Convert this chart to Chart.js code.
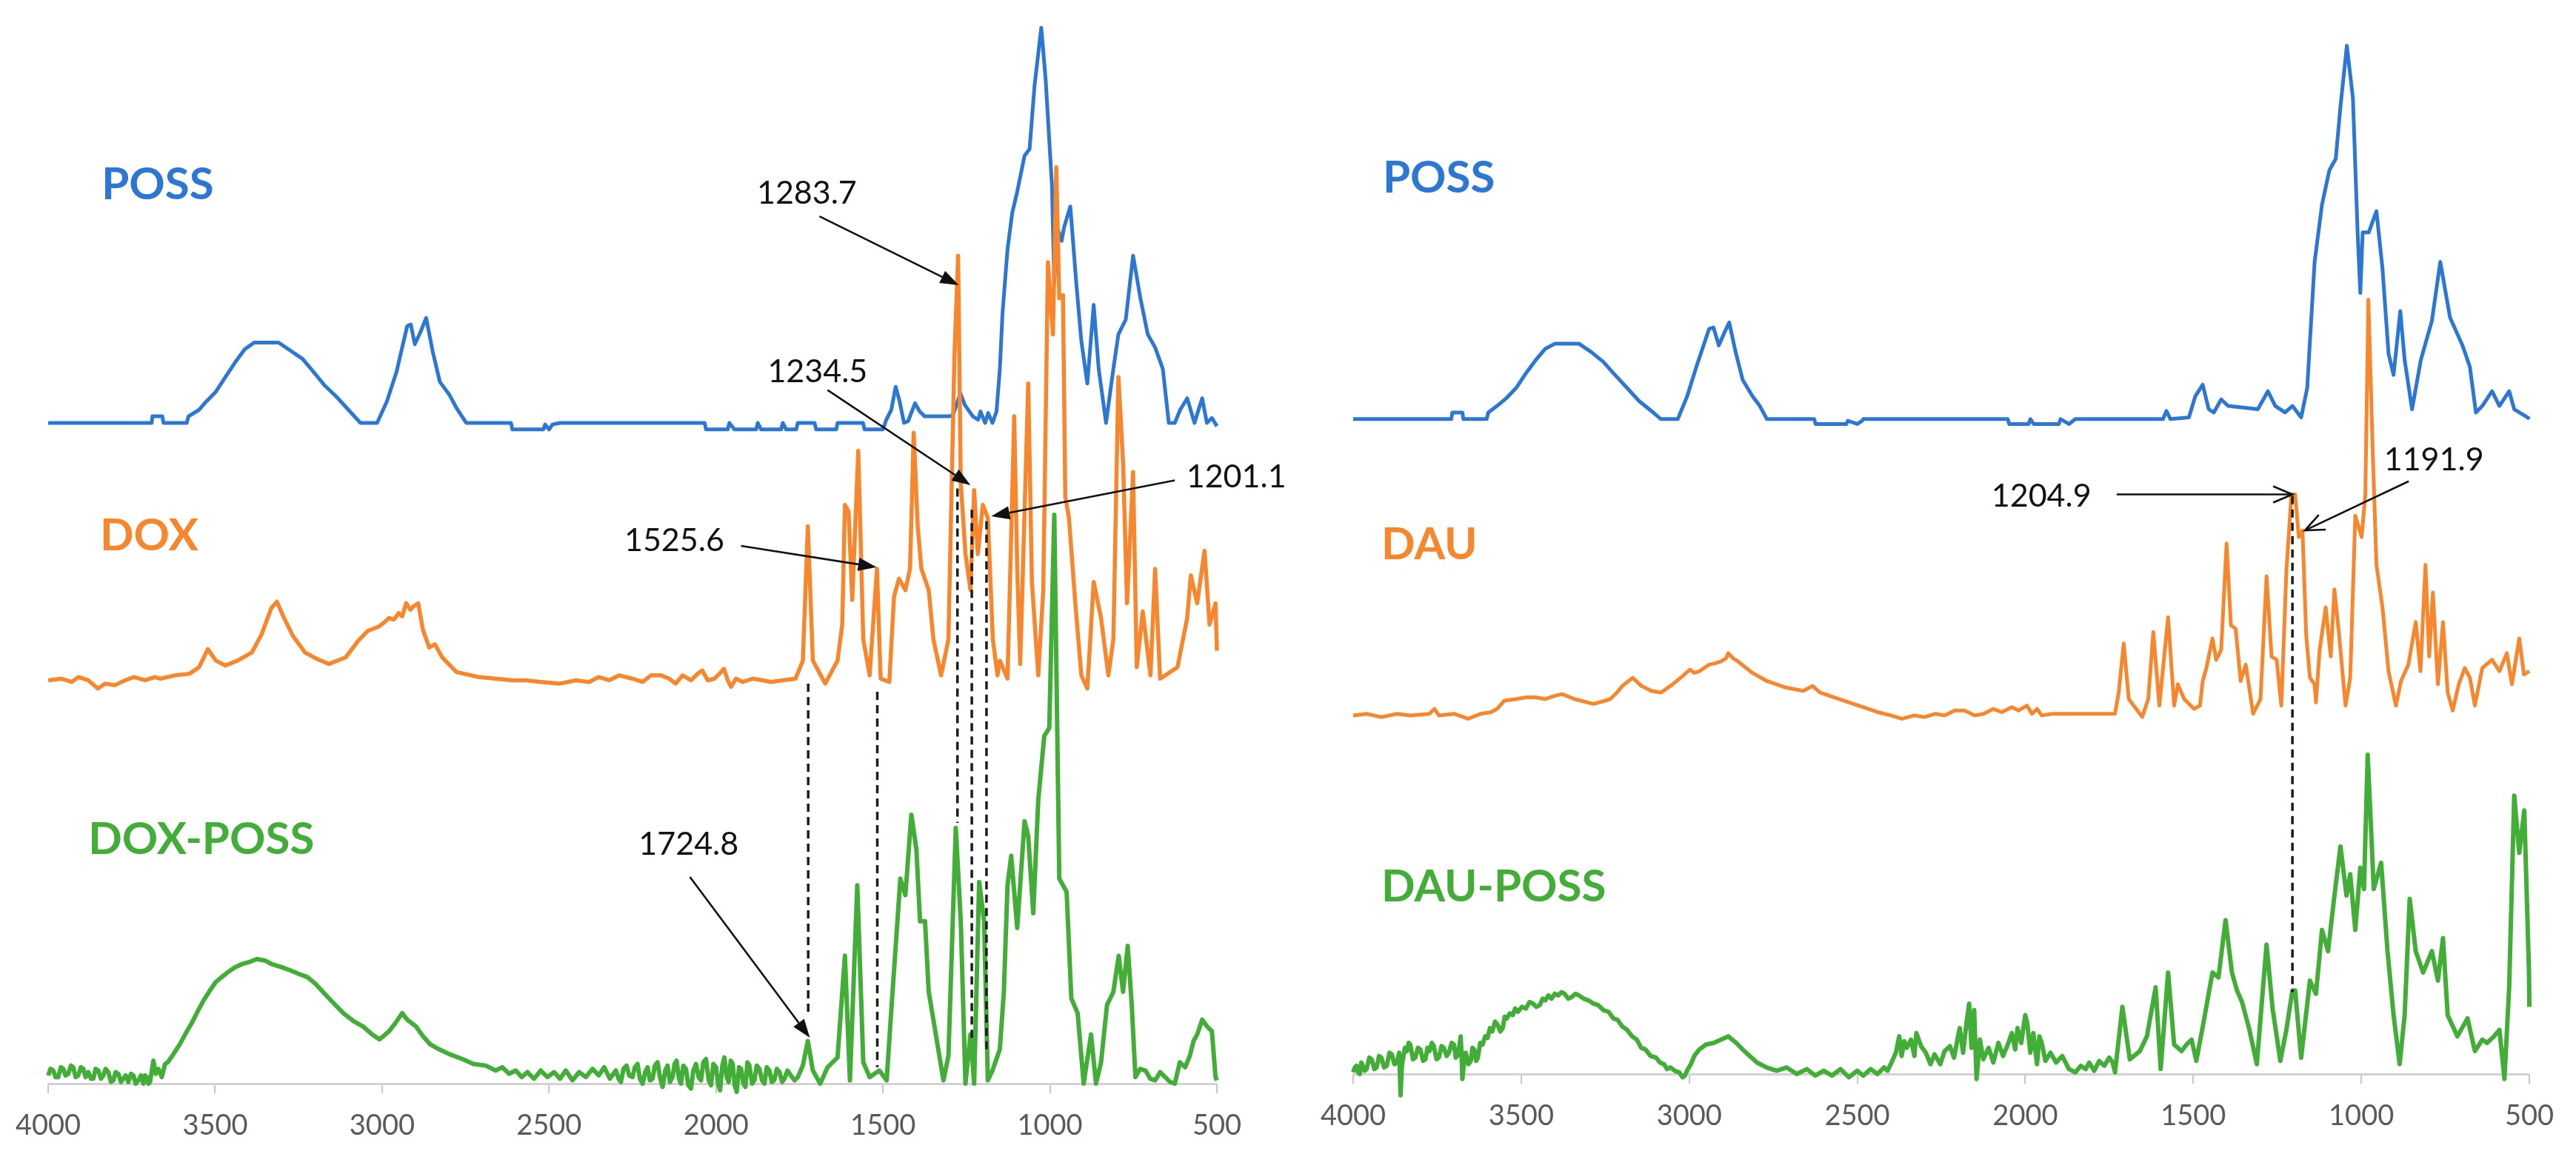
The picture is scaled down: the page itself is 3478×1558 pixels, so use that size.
<!DOCTYPE html>
<html>
<head>
<meta charset="utf-8">
<script src="https://cdn.jsdelivr.net/npm/chart.js@4.4.1/dist/chart.umd.min.js"></script>
<style>
  html, body { margin: 0; padding: 0; background: #fff; }
  #wrap { position: relative; width: 3478px; height: 1558px; overflow: hidden; }
  #left { position: absolute; left: 0; top: 0; }
  #right { position: absolute; left: 1739px; top: 0; }
</style>
</head>
<body>
<div id="wrap">
  <canvas id="left" width="1780" height="1558"></canvas>
  <canvas id="right" width="1739" height="1558"></canvas>
</div>
<script>
// wavenumber (cm-1), offset intensity
const possA = [
  [4000,397],[3690,397],[3688,401],[3658,401],[3655,397],[3585,397],[3580,401],[3548,405],[3527,410],[3498,416],[3469,425],[3440,434],[3411,442],[3383,446],[3310,446],[3274,441],[3238,436],[3209,429],[3173,420],[3137,413],[3101,405],[3065,397],[3015,397],[2986,410],[2957,428],[2925,456],[2914,457],[2902,445],[2886,452],[2868,461],[2849,441],[2827,422],[2798,414],[2777,406],[2748,397],[2614,397],[2610,393],[2517,393],[2512,396],[2500,393],[2490,396],[2467,397],[2034,397],[2030,393],[1965,393],[1960,397],[1945,393],[1880,393],[1875,397],[1865,393],[1805,393],[1800,397],[1790,393],[1760,393],[1755,397],[1705,397],[1700,393],[1640,393],[1636,397],[1560,397],[1555,393],[1500,393],[1490,399],[1475,405],[1462,419],[1450,410],[1437,397],[1425,398],[1404,409],[1390,404],[1375,401],[1300,401],[1290,402],[1268,415],[1255,408],[1231,401],[1215,399],[1208,404],[1194,397],[1185,403],[1172,397],[1160,404],[1150,430],[1142,464],[1127,503],[1113,525],[1098,538],[1076,560],[1061,564],[1046,603],[1026,638],[1013,607],[994,542],[987,482],[978,516],[965,508],[958,516],[939,529],[921,482],[906,447],[888,421],[869,469],[854,430],[832,397],[810,430],[795,451],[773,460],[751,499],[729,473],[707,451],[685,443],[662,430],[644,397],[626,397],[610,405],[589,412],[567,397],[555,405],[544,412],[530,397],[515,400],[500,395]
];
const dox = [
  [4000,240],[3960,241],[3930,239],[3909,242],[3880,240],[3851,235],[3830,238],[3801,237],[3770,240],[3743,242],[3710,240],[3680,242],[3664,241],[3620,243],[3577,244],[3548,248],[3522,259],[3498,252],[3469,249],[3433,252],[3390,257],[3361,268],[3332,284],[3315,288],[3296,279],[3267,267],[3231,257],[3195,253],[3159,250],[3109,254],[3072,264],[3044,270],[3008,273],[2990,276],[2979,278],[2965,277],[2950,281],[2940,279],[2928,287],[2915,283],[2907,285],[2892,287],[2878,271],[2859,260],[2842,262],[2820,254],[2777,245],[2712,242],[2660,241],[2611,240],[2570,240],[2524,239],[2467,238],[2420,240],[2380,239],[2351,242],[2320,240],[2290,243],[2250,241],[2220,239],[2195,243],[2164,243],[2140,241],[2121,238],[2100,243],[2075,240],[2055,244],[2041,246],[2025,240],[2005,241],[1990,244],[1976,247],[1965,240],[1955,236],[1940,241],[1920,239],[1890,241],[1860,240],[1836,239],[1800,240],[1762,241],[1740,252],[1725,334],[1710,252],[1673,238],[1636,252],[1622,274],[1614,347],[1603,343],[1592,289],[1574,380],[1559,265],[1540,243],[1518,308],[1507,241],[1481,239],[1467,291],[1452,302],[1433,295],[1419,308],[1408,391],[1396,334],[1385,308],[1363,295],[1349,265],[1326,243],[1304,265],[1286,438],[1275,499],[1267,360],[1253,317],[1238,295],[1227,356],[1216,317],[1201,347],[1186,339],[1171,265],[1157,243],[1150,252],[1127,241],[1107,401],[1098,308],[1089,250],[1065,421],[1054,300],[1035,243],[1020,295],[1006,495],[991,451],[981,553],[972,473],[961,475],[954,352],[943,339],[924,287],[906,243],[888,235],[869,300],[847,278],[825,243],[810,265],[795,425],[781,373],[769,287],[751,367],[740,248],[722,282],[699,243],[685,308],[670,241],[655,243],[618,248],[589,278],[578,304],[559,287],[537,319],[522,274],[504,287],[500,258]
];
const doxPoss = [
  [4000,-1],[3993,3],[3985,2],[3978,-2],[3970,-2],[3962,4],[3955,3],[3948,-1],[3940,0],[3932,5],[3925,4],[3918,-2],[3910,-1],[3902,4],[3895,3],[3888,-2],[3880,1],[3872,-3],[3865,-3],[3858,3],[3850,2],[3842,-3],[3835,-1],[3828,3],[3820,1],[3812,-5],[3805,-4],[3798,1],[3790,0],[3782,-5],[3775,-3],[3768,-1],[3760,-5],[3752,0],[3745,-1],[3738,-6],[3730,-4],[3722,-1],[3715,-6],[3710,-1],[3705,-2],[3700,-6],[3695,-5],[3685,8],[3678,0],[3670,3],[3660,-2],[3650,6],[3642,7],[3625,12],[3606,18],[3590,24],[3570,31],[3550,39],[3534,45],[3515,51],[3498,56],[3480,59],[3462,62],[3440,65],[3419,67],[3400,68],[3375,70],[3350,69],[3332,67],[3300,65],[3274,63],[3250,61],[3224,59],[3200,55],[3173,49],[3145,43],[3116,37],[3085,32],[3058,29],[3030,24],[3008,21],[2990,24],[2979,26],[2960,31],[2940,37],[2925,33],[2899,29],[2878,23],[2856,18],[2830,15],[2799,12],[2760,9],[2726,6],[2690,5],[2660,2],[2640,4],[2620,0],[2600,2],[2582,-2],[2565,1],[2545,-3],[2525,2],[2505,-2],[2485,1],[2467,-3],[2450,2],[2430,-4],[2410,1],[2390,-2],[2370,3],[2351,-1],[2335,4],[2318,-3],[2300,2],[2292,-3],[2285,-5],[2277,3],[2268,5],[2260,-1],[2250,-2],[2243,4],[2235,6],[2228,-3],[2220,-6],[2212,1],[2205,4],[2198,-4],[2190,-3],[2183,5],[2175,7],[2168,-2],[2160,-8],[2152,2],[2145,5],[2138,-5],[2130,-2],[2124,6],[2118,8],[2111,-3],[2105,-6],[2098,5],[2090,3],[2083,-7],[2075,-9],[2068,2],[2060,6],[2052,-2],[2045,-4],[2038,7],[2030,9],[2022,-4],[2015,-7],[2008,6],[2000,4],[1994,-6],[1988,-10],[1981,5],[1975,10],[1968,-2],[1962,-5],[1956,8],[1950,6],[1944,-7],[1938,-11],[1931,4],[1925,3],[1918,-6],[1912,-8],[1906,7],[1900,5],[1892,-6],[1885,-4],[1878,5],[1870,3],[1862,-4],[1855,-6],[1848,4],[1840,2],[1833,-5],[1826,-4],[1818,3],[1810,1],[1802,-5],[1795,-3],[1786,2],[1776,-1],[1765,-4],[1755,-2],[1740,5],[1725,20],[1710,2],[1688,-6],[1666,4],[1636,10],[1614,72],[1599,-4],[1577,115],[1559,7],[1540,-2],[1511,2],[1489,-4],[1474,42],[1448,119],[1433,109],[1415,158],[1400,137],[1389,93],[1374,93],[1363,50],[1345,28],[1319,-4],[1304,11],[1282,150],[1267,93],[1253,-6],[1238,24],[1227,-6],[1212,117],[1197,93],[1186,-4],[1172,2],[1150,15],[1138,50],[1127,115],[1116,133],[1098,89],[1076,154],[1065,145],[1050,98],[1035,167],[1017,206],[1002,211],[987,341],[972,119],[950,111],[936,46],[917,37],[899,-6],[877,24],[862,-6],[847,7],[829,42],[810,50],[794,72],[781,50],[767,78],[755,42],[744,-2],[730,3],[714,2],[700,-3],[685,-4],[670,1],[655,-2],[640,-5],[626,-6],[611,7],[595,4],[581,11],[570,20],[559,24],[544,33],[530,29],[515,26],[504,-2],[500,-4]
];
const possB = [
  [4000,399],[3708,399],[3705,403],[3675,403],[3672,399],[3603,399],[3598,403],[3572,407],[3543,412],[3515,418],[3486,427],[3457,435],[3428,442],[3400,445],[3328,445],[3292,440],[3256,434],[3221,426],[3185,418],[3149,410],[3113,404],[3084,399],[3034,399],[3006,413],[2977,432],[2941,454],[2928,455],[2912,444],[2895,452],[2881,458],[2862,440],[2841,423],[2812,413],[2790,407],[2769,399],[2628,399],[2624,396],[2532,396],[2528,398],[2500,396],[2485,398],[2482,399],[2052,399],[2048,396],[1990,396],[1985,399],[1975,396],[1900,396],[1895,399],[1870,396],[1851,399],[1590,399],[1580,404],[1568,399],[1513,400],[1494,413],[1472,420],[1454,405],[1439,403],[1417,411],[1396,407],[1308,405],[1278,416],[1256,407],[1227,403],[1205,407],[1179,400],[1161,418],[1139,495],[1117,530],[1095,551],[1076,558],[1062,590],[1043,627],[1025,595],[1011,513],[1003,476],[996,513],[978,513],[955,526],[937,491],[919,439],[904,426],[884,465],[871,435],[849,405],[823,435],[790,459],[765,495],[736,461],[699,444],[677,431],[659,403],[640,407],[611,416],[589,407],[560,416],[545,405],[505,400],[500,399]
];
const dau = [
  [4000,218],[3960,219],[3916,217],[3870,219],[3830,218],[3773,219],[3758,222],[3745,218],[3700,219],[3658,216],[3620,219],[3590,220],[3572,222],[3550,227],[3515,228],[3485,229],[3457,229],[3429,228],[3400,230],[3378,231],[3342,228],[3285,225],[3250,227],[3235,228],[3215,232],[3199,236],[3168,241],[3142,236],[3113,233],[3084,232],[3049,237],[3020,242],[2998,246],[2985,244],[2970,245],[2941,249],[2920,250],[2905,251],[2890,253],[2884,256],[2870,253],[2855,251],[2812,244],[2769,239],[2712,235],[2661,233],[2633,236],[2611,232],[2554,228],[2496,224],[2439,220],[2400,218],[2367,216],[2330,218],[2300,217],[2267,219],[2240,218],[2210,221],[2181,221],[2150,218],[2124,219],[2095,222],[2070,220],[2040,223],[2020,221],[1995,224],[1980,219],[1965,222],[1951,218],[1920,219],[1901,219],[1733,219],[1722,232],[1707,262],[1692,228],[1652,217],[1634,228],[1619,269],[1601,224],[1575,278],[1557,224],[1546,237],[1527,228],[1498,222],[1480,224],[1472,239],[1461,247],[1443,265],[1432,252],[1417,258],[1401,323],[1388,273],[1374,271],[1359,239],[1344,249],[1322,219],[1300,228],[1282,303],[1267,254],[1252,252],[1238,224],[1223,306],[1208,353],[1197,353],[1186,327],[1175,331],[1164,267],[1153,241],[1139,237],[1135,226],[1124,258],[1106,284],[1091,254],[1080,295],[1066,267],[1047,224],[1033,241],[1018,340],[999,327],[988,353],[979,472],[966,379],[955,310],[937,284],[919,245],[897,224],[882,239],[860,249],[838,275],[824,245],[809,310],[798,254],[787,293],[772,237],[757,275],[743,232],[728,221],[710,237],[692,247],[677,241],[662,224],[640,247],[611,252],[589,245],[567,256],[552,237],[530,265],[516,243],[500,245]
];
const dauPoss = [
  [4000,0],[3995,3],[3990,4],[3985,0],[3980,-1],[3976,6],[3973,5],[3966,1],[3960,2],[3952,9],[3945,8],[3937,2],[3930,3],[3923,10],[3916,9],[3908,3],[3900,4],[3892,12],[3885,11],[3877,5],[3870,6],[3863,12],[3859,-14],[3855,4],[3852,8],[3846,15],[3840,13],[3835,18],[3830,17],[3822,8],[3815,9],[3807,15],[3800,14],[3792,7],[3785,8],[3779,15],[3773,13],[3766,18],[3760,16],[3752,8],[3745,9],[3737,16],[3730,15],[3722,10],[3715,12],[3707,18],[3700,17],[3695,9],[3690,10],[3684,16],[3680,22],[3677,8],[3675,-4],[3670,6],[3665,12],[3657,5],[3650,7],[3645,15],[3640,14],[3634,7],[3629,9],[3622,18],[3615,17],[3607,22],[3600,21],[3593,27],[3586,25],[3578,31],[3570,29],[3562,25],[3555,27],[3549,34],[3543,33],[3534,36],[3525,35],[3518,39],[3510,37],[3498,40],[3486,39],[3475,43],[3465,42],[3455,40],[3445,41],[3436,45],[3428,44],[3419,47],[3410,45],[3400,48],[3390,47],[3380,49],[3371,48],[3360,45],[3350,46],[3338,48],[3328,47],[3314,45],[3300,44],[3285,42],[3271,41],[3255,38],[3240,37],[3226,33],[3213,32],[3199,28],[3185,26],[3170,22],[3156,20],[3143,15],[3130,14],[3115,10],[3099,9],[3087,6],[3075,5],[3066,2],[3056,3],[3043,1],[3030,0],[3020,-3],[3013,-2],[3004,2],[2995,5],[2985,10],[2970,14],[2950,17],[2927,18],[2905,20],[2884,22],[2860,18],[2841,14],[2820,10],[2798,6],[2770,3],[2740,1],[2710,3],[2680,-1],[2650,2],[2625,-2],[2600,1],[2575,-2],[2550,2],[2525,-3],[2500,1],[2482,-2],[2460,2],[2440,-1],[2420,3],[2410,1],[2398,6],[2385,12],[2375,22],[2368,10],[2360,19],[2353,15],[2340,20],[2330,10],[2324,24],[2310,16],[2296,12],[2282,5],[2270,11],[2253,5],[2240,13],[2224,16],[2212,9],[2200,22],[2195,27],[2185,12],[2175,30],[2167,42],[2160,15],[2152,38],[2145,-4],[2135,20],[2125,8],[2109,15],[2095,6],[2080,18],[2066,10],[2052,17],[2040,24],[2030,14],[2023,27],[2012,18],[2000,35],[1994,30],[1985,12],[1976,24],[1965,5],[1958,22],[1951,18],[1940,7],[1925,12],[1908,6],[1890,10],[1870,2],[1851,0],[1835,4],[1820,2],[1810,6],[1795,1],[1780,7],[1765,4],[1750,9],[1740,6],[1733,0],[1711,40],[1689,8],[1659,13],[1638,22],[1612,52],[1597,2],[1575,61],[1557,17],[1535,13],[1520,17],[1505,20],[1491,7],[1469,31],[1443,61],[1425,58],[1404,93],[1385,61],[1370,50],[1355,43],[1333,26],[1311,5],[1282,78],[1264,39],[1241,7],[1223,26],[1205,50],[1197,50],[1179,9],[1153,56],[1135,48],[1117,87],[1099,74],[1080,108],[1062,138],[1044,108],[1033,121],[1018,87],[1003,125],[992,112],[981,194],[963,112],[941,128],[922,74],[904,35],[886,5],[871,35],[856,106],[838,74],[816,61],[790,74],[772,56],[757,82],[743,35],[714,22],[684,33],[662,13],[640,20],[626,18],[605,22],[589,26],[574,-4],[560,52],[545,169],[530,134],[515,160],[501,61],[500,40]
];

const xTicks = [4000, 3500, 3000, 2500, 2000, 1500, 1000, 500];

// series names and where they sit (wavenumber, offset)
const leftNames = ['POSS', 'DOX', 'DOX-POSS'];
const leftNameAt = [[3840, 542], [3845, 328], [3880, 143]];
const rightNames = ['POSS', 'DAU', 'DAU-POSS'];
const rightNameAt = [[3912, 546], [3916, 322], [3916, 113]];

// peak call-outs: text, text centre, arrow [from w, from v, to w, to v]
const leftPeaks = ['1283.7', '1234.5', '1201.1', '1525.6', '1724.8'];
const leftPeakAt = [[1728, 537], [1696, 428], [442, 364], [2125, 325], [2082, 140]];
const leftArrows = [[1690, 523, 1273, 481], [1666, 417, 1238, 359], [626, 362, 1176, 340], [1925, 322, 1519, 309], [2078, 120, 1719, 22]];
const leftDashes = [[1724, 238, 37], [1517, 233, 4], [1277, 357, 153], [1234, 344, 20], [1190, 337, 15]];

const rightPeaks = ['1204.9', '1191.9'];
const rightPeakAt = [[1952, 352], [784, 374]];
const rightArrows = [[1728, 353, 1205, 353], [859, 361, 1168, 331]];
const rightDashes = [[1205, 352, 49]];

const BLUE = '#2b77d3';
const ORANGE = '#f7862c';
const GREEN = '#42ad37';
const FONT = 'Lato, "Open Sans", sans-serif';

function line(rows, color, width, order) {
    return {
        data: rows.map(r => ({ x: r[0], y: r[1] })),
        borderColor: color,
        borderWidth: width,
        pointRadius: 0,
        tension: 0,
        fill: false,
        clip: false,
        borderJoinStyle: 'round',
        order: order
    };
}

function notes(names, nameAt, peaks, peakAt, arrows, dashes, openHead) {
    const colors = [BLUE, ORANGE, GREEN];
    return {
        id: 'notes',
        afterDatasetsDraw(chart) {
            const { ctx } = chart;
            const sx = chart.scales.x, sy = chart.scales.y;
            const px = w => sx.getPixelForValue(w);
            const py = v => sy.getPixelForValue(v);
            ctx.save();

            ctx.strokeStyle = '#1c1c1c';
            ctx.lineWidth = 3.5;
            ctx.setLineDash([11, 7]);
            dashes.forEach(d => {
                ctx.beginPath();
                ctx.moveTo(px(d[0]), py(d[1]));
                ctx.lineTo(px(d[0]), py(d[2]));
                ctx.stroke();
            });
            ctx.setLineDash([]);

            ctx.lineWidth = 2.6;
            ctx.fillStyle = '#111';
            ctx.strokeStyle = '#111';
            arrows.forEach(a => {
                const x1 = px(a[0]), y1 = py(a[1]), x2 = px(a[2]), y2 = py(a[3]);
                const ang = Math.atan2(y2 - y1, x2 - x1);
                const len = openHead ? 26 : 25, half = openHead ? 11 : 9;
                const bx = x2 - len * Math.cos(ang), by = y2 - len * Math.sin(ang);
                const nx = -Math.sin(ang) * half, ny = Math.cos(ang) * half;
                ctx.beginPath();
                ctx.moveTo(x1, y1);
                ctx.lineTo(openHead ? x2 : bx, openHead ? y2 : by);
                ctx.stroke();
                ctx.beginPath();
                if (openHead) {
                    ctx.moveTo(bx + nx, by + ny);
                    ctx.lineTo(x2, y2);
                    ctx.lineTo(bx - nx, by - ny);
                    ctx.stroke();
                } else {
                    ctx.moveTo(x2, y2);
                    ctx.lineTo(bx + nx, by + ny);
                    ctx.lineTo(bx - nx, by - ny);
                    ctx.closePath();
                    ctx.fill();
                }
            });

            ctx.textBaseline = 'middle';
            ctx.textAlign = 'left';
            ctx.font = 'bold 60px ' + FONT;
            names.forEach((n, i) => {
                ctx.fillStyle = colors[i];
                ctx.fillText(n, px(nameAt[i][0]), py(nameAt[i][1]));
            });

            ctx.textAlign = 'center';
            ctx.font = '43px ' + FONT;
            ctx.fillStyle = '#111';
            peaks.forEach((t, i) => ctx.fillText(t, px(peakAt[i][0]), py(peakAt[i][1])));
            ctx.restore();
        }
    };
}

function options(padLeft, padRight, axisHeight, yMin) {
    return {
        responsive: false,
        animation: false,
        devicePixelRatio: 1,
        events: [],
        layout: { padding: { left: padLeft, right: padRight, top: 22, bottom: 0 } },
        plugins: { legend: { display: false }, tooltip: { enabled: false } },
        scales: {
            x: {
                type: 'linear',
                reverse: true,
                min: 500,
                max: 4000,
                afterFit: s => { s.height = axisHeight; },
                afterBuildTicks: s => { s.ticks = xTicks.map(v => ({ value: v })); },
                ticks: {
                    autoSkip: false,
                    maxRotation: 0,
                    padding: 21,
                    color: '#595959',
                    font: { family: FONT, size: 38 },
                    callback: v => String(v)
                },
                grid: { drawOnChartArea: false, drawTicks: true, tickLength: 13, color: '#c6c6c6', lineWidth: 2 },
                border: { display: true, color: '#d2d2d2', width: 3 }
            },
            y: { display: false, min: yMin, max: 645 }
        }
    };
}

new Chart(document.getElementById('left'), {
    type: 'line',
    data: { datasets: [line(possA, BLUE, 5, 3), line(dox, ORANGE, 5.5, 2), line(doxPoss, GREEN, 6, 1)] },
    options: options(64, 137, 95, -6),
    plugins: [notes(leftNames, leftNameAt, leftPeaks, leftPeakAt, leftArrows, leftDashes, false)]
});

new Chart(document.getElementById('right'), {
    type: 'line',
    data: { datasets: [line(possB, BLUE, 5, 3), line(dau, ORANGE, 5, 2), line(dauPoss, GREEN, 6, 1)] },
    options: options(88, 63, 108, -1),
    plugins: [notes(rightNames, rightNameAt, rightPeaks, rightPeakAt, rightArrows, rightDashes, true)]
});
</script>
</body>
</html>
